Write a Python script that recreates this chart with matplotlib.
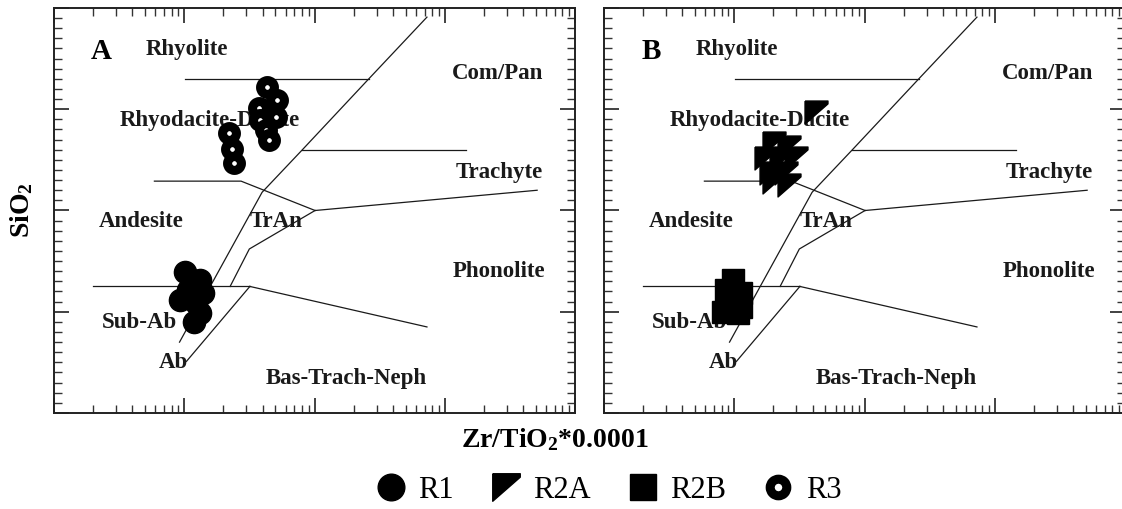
import matplotlib
matplotlib.use("Agg")
import matplotlib.pyplot as plt
import numpy as np
from matplotlib.ticker import MultipleLocator, LogLocator, NullFormatter

plt.rcParams['font.family'] = ['Liberation Serif', 'DejaVu Serif']
plt.rcParams['mathtext.fontset'] = 'custom'
plt.rcParams['mathtext.rm'] = 'Liberation Serif'
plt.rcParams['mathtext.bf'] = 'Liberation Serif:bold'
plt.rcParams['mathtext.default'] = 'bf'

# Winchester & Floyd field boundaries (Zr/TiO2*0.0001, SiO2)
boundaries = [
    [(0.0102, 73.0), (0.261, 73.0)],                                   # rhyolite / rhyodacite
    [(0.0092, 47.0), (0.0396, 61.8), (0.0807, 66.0), (0.261, 73.0), (0.73, 79.1)],  # sub-alkaline / alkaline
    [(0.0059, 62.9), (0.0273, 62.9), (0.101, 60.0)],                   # andesite / rhyodacite
    [(0.101, 60.0), (5.12, 62.0)],                                     # trachyte / phonolite
    [(0.0807, 66.0), (1.45, 66.0)],                                    # com/pan / trachyte
    [(0.101, 60.0), (0.0316, 56.2), (0.0225, 52.5)],                   # TrAn / phonolite
    [(0.0020, 52.5), (0.0319, 52.5)],                                  # andesite / sub-ab
    [(0.0319, 52.5), (0.73, 48.5)],                                    # phonolite / bas-trach-neph
    [(0.0104, 45.1), (0.0319, 52.5)],                                  # ab / bas-trach-neph
]

# field labels
field_names = ["Rhyolite", "Com/Pan", "Rhyodacite-Dacite", "Trachyte", "Andesite",
               "TrAn", "Phonolite", "Sub-Ab", "Ab", "Bas-Trach-Neph"]
field_x = [0.0105, 2.55, 0.0156, 2.61, 0.0047, 0.0505, 2.61, 0.0045, 0.0082, 0.176]
field_y = [75.9, 73.5, 68.9, 63.8, 58.9, 58.9, 54.0, 48.9, 45.0, 43.4]

# samples, panel A
r1_x = [0.01005, 0.0131, 0.01064, 0.01387, 0.0092, 0.01234, 0.0131, 0.01197]
r1_y = [53.96, 53.14, 52.15, 51.82, 51.16, 50.83, 49.85, 49.02]
r3_x = [0.0430, 0.0514, 0.0376, 0.0505, 0.0383, 0.0424, 0.0444, 0.0222, 0.0233, 0.0242]
r3_y = [72.17, 70.9, 70.1, 69.26, 68.94, 67.95, 66.96, 67.62, 66.04, 64.72]

# samples, panel B
r2a_x = [0.0424, 0.0203, 0.0265, 0.0175, 0.0229, 0.0298, 0.0192, 0.0249, 0.0203, 0.0265]
r2a_y = [69.76, 66.64, 66.3, 65.16, 64.99, 65.16, 63.67, 63.67, 62.85, 62.52]
r2b_x = [0.00975, 0.00867, 0.0113, 0.0092, 0.0113, 0.00818, 0.01064]
r2b_y = [53.14, 52.15, 51.82, 50.83, 50.5, 50.0, 49.85]

r2a_marker = [(-1, 1), (1, 1), (1, 0.75), (-1, -1), (-1, 1)]

fig = plt.figure(figsize=(11.22, 5.09), dpi=100)
W, H = 1122, 509
axA = fig.add_axes([54 / W, 1 - 413 / H, 521 / W, 405 / H])
axB = fig.add_axes([604 / W, 1 - 413 / H, 521 / W, 405 / H])


def setup(ax, letter):
    ax.set_xscale('log')
    ax.set_xlim(0.001, 10)
    ax.set_ylim(40, 80)
    ax.yaxis.set_major_locator(MultipleLocator(10))
    ax.yaxis.set_minor_locator(MultipleLocator(1))
    ax.xaxis.set_major_locator(LogLocator(base=10))
    ax.xaxis.set_minor_locator(LogLocator(base=10, subs=np.arange(2, 10)))
    ax.xaxis.set_major_formatter(NullFormatter())
    ax.xaxis.set_minor_formatter(NullFormatter())
    ax.yaxis.set_major_formatter(NullFormatter())
    ax.tick_params(which='both', direction='in', top=True, right=True, color='#333')
    ax.tick_params(which='major', length=11, width=1.3)
    ax.tick_params(which='minor', length=6, width=1.0)
    for s in ax.spines.values():
        s.set_linewidth(1.4)
        s.set_color('#222')
    for seg in boundaries:
        xs, ys = zip(*seg)
        ax.plot(xs, ys, color='#1a1a1a', lw=0.9, zorder=2)
    for name, x, y in zip(field_names, field_x, field_y):
        ax.text(x, y, name, ha='center', va='center', fontsize=16.5,
                fontweight='bold', color='#1a1a1a', zorder=3)
    ax.text(0.09, 0.892, letter, transform=ax.transAxes, ha='center', va='center',
            fontsize=21, fontweight='bold', color='black', zorder=3)


setup(axA, 'A')
setup(axB, 'B')

h_r1, = axA.plot(r1_x, r1_y, 'o', ms=16, color='black', mec='black', zorder=5, label='R1')
h_r3, = axA.plot(r3_x, r3_y, 'o', ms=10, mfc='white', mec='black', mew=6.5, zorder=5, label='R3')
h_r2a, = axB.plot(r2a_x, r2a_y, marker=r2a_marker, ls='none', ms=16.5, color='black', zorder=5, label='R2A')
h_r2b, = axB.plot(r2b_x, r2b_y, 's', ms=16, color='black', zorder=5, label='R2B')

fig.text(22 / W, 1 - 210 / H, r'SiO$_2$', rotation=90, ha='center', va='center',
         fontsize=20, fontweight='bold')
fig.text(555 / W, 1 - 440 / H, r'Zr/TiO$_2$*0.0001', ha='center', va='center',
         fontsize=20, fontweight='bold')

fig.legend(handles=[h_r1, h_r2a, h_r2b, h_r3], loc='center', ncol=4,
           bbox_to_anchor=(607 / W, 1 - 490 / H), frameon=False, fontsize=22,
           markerscale=1.2, handletextpad=0.3, columnspacing=1.1, handlelength=1.2)

fig.savefig('out.png', dpi=100)
